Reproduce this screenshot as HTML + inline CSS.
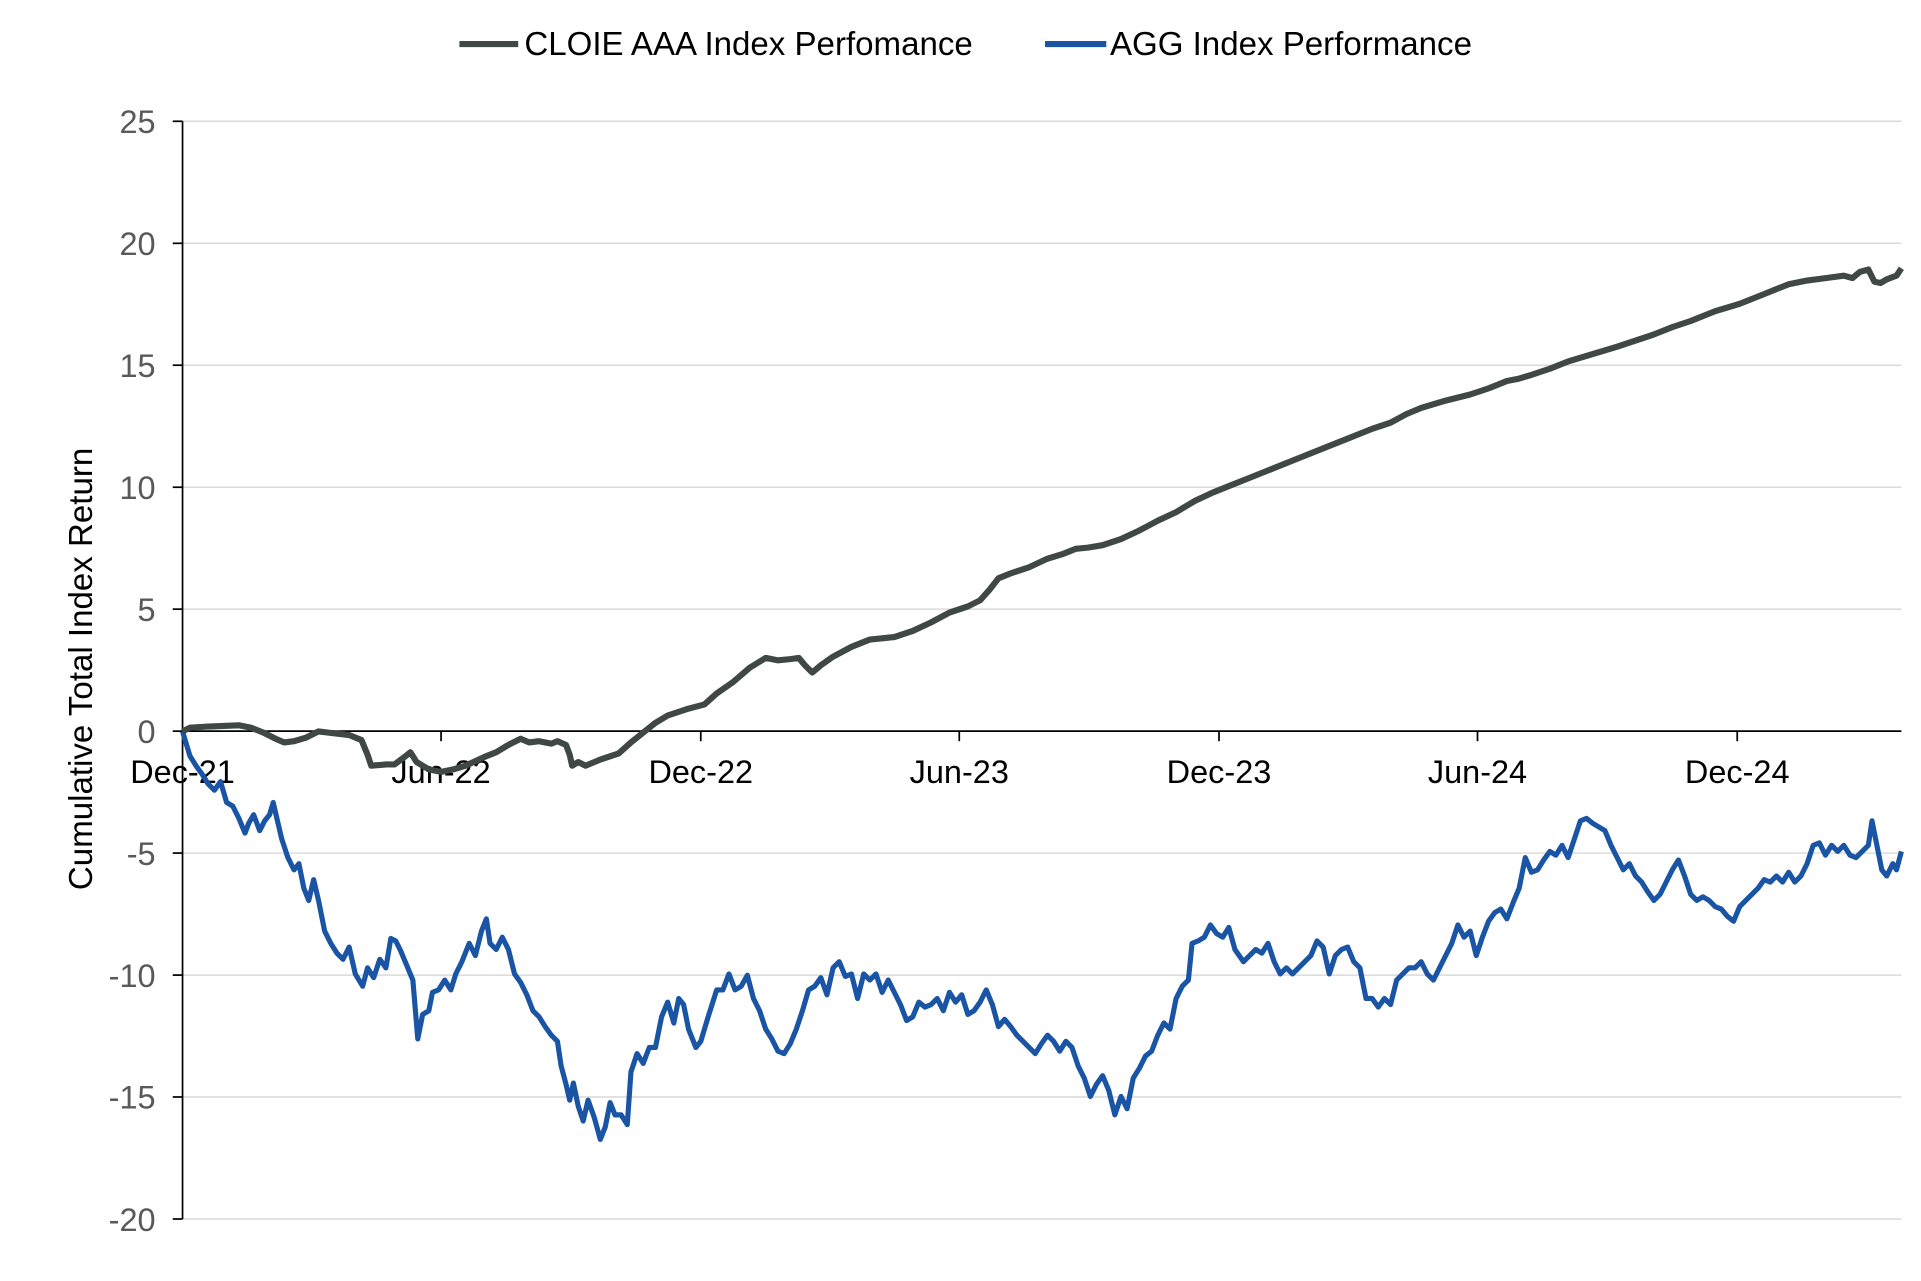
<!DOCTYPE html>
<html><head><meta charset="utf-8"><style>
html,body{margin:0;padding:0;background:#fff;}
svg{display:block;}
text{font-family:"Liberation Sans",Arial,sans-serif;}
</style></head><body>
<svg width="1921" height="1281" viewBox="0 0 1568 1045.6" preserveAspectRatio="none" xmlns="http://www.w3.org/2000/svg">
<g stroke="#d9d9d9" stroke-width="1.2">
<line x1="149" y1="99" x2="1552" y2="99"/>
<line x1="149" y1="198.6" x2="1552" y2="198.6"/>
<line x1="149" y1="298.1" x2="1552" y2="298.1"/>
<line x1="149" y1="397.7" x2="1552" y2="397.7"/>
<line x1="149" y1="497.2" x2="1552" y2="497.2"/>
<line x1="149" y1="696.3" x2="1552" y2="696.3"/>
<line x1="149" y1="795.9" x2="1552" y2="795.9"/>
<line x1="149" y1="895.4" x2="1552" y2="895.4"/>
<line x1="149" y1="995" x2="1552" y2="995"/>
</g>
<g stroke="#000" stroke-width="1.4">
<line x1="149" y1="99" x2="149" y2="995"/>
<line x1="141" y1="99" x2="149" y2="99"/>
<line x1="141" y1="198.6" x2="149" y2="198.6"/>
<line x1="141" y1="298.1" x2="149" y2="298.1"/>
<line x1="141" y1="397.7" x2="149" y2="397.7"/>
<line x1="141" y1="497.2" x2="149" y2="497.2"/>
<line x1="141" y1="596.8" x2="149" y2="596.8"/>
<line x1="141" y1="696.3" x2="149" y2="696.3"/>
<line x1="141" y1="795.9" x2="149" y2="795.9"/>
<line x1="141" y1="895.4" x2="149" y2="895.4"/>
<line x1="141" y1="995" x2="149" y2="995"/>
<line x1="149" y1="596.8" x2="1552" y2="596.8"/>
<line x1="360" y1="596.8" x2="360" y2="605"/>
<line x1="572" y1="596.8" x2="572" y2="605"/>
<line x1="783" y1="596.8" x2="783" y2="605"/>
<line x1="995" y1="596.8" x2="995" y2="605"/>
<line x1="1206" y1="596.8" x2="1206" y2="605"/>
<line x1="1418" y1="596.8" x2="1418" y2="605"/>
</g>
<g fill="#595959" font-size="26.5" text-anchor="end">
<text x="127" y="108.6">25</text>
<text x="127" y="208.2">20</text>
<text x="127" y="307.7">15</text>
<text x="127" y="407.3">10</text>
<text x="127" y="506.8">5</text>
<text x="127" y="606.4">0</text>
<text x="127" y="705.9">-5</text>
<text x="127" y="805.5">-10</text>
<text x="127" y="905">-15</text>
<text x="127" y="1004.6">-20</text>
</g>
<g fill="#000" font-size="26.5" text-anchor="middle">
<text x="149" y="639">Dec-21</text>
<text x="360" y="639">Jun-22</text>
<text x="572" y="639">Dec-22</text>
<text x="783" y="639">Jun-23</text>
<text x="995" y="639">Dec-23</text>
<text x="1206" y="639">Jun-24</text>
<text x="1418" y="639">Dec-24</text>
</g>
<text x="0" y="0" font-size="27" fill="#000" text-anchor="middle" transform="translate(75,546) rotate(-90)">Cumulative Total Index Return</text>
<line x1="375" y1="36" x2="423" y2="36" stroke="#404846" stroke-width="5"/>
<text x="428" y="45" font-size="27" fill="#000">CLOIE AAA Index Perfomance</text>
<line x1="853" y1="36" x2="903" y2="36" stroke="#1a55a5" stroke-width="5"/>
<text x="906" y="45" font-size="27" fill="#000">AGG Index Performance</text>
<polyline fill="none" stroke="#1a55a5" stroke-width="4.2" stroke-linejoin="round" points="149,597 152,607 155,617 160,625 165,632 170,640 175,645 180,638 185,655 190,658 195,668 200,680 203,672 207,665 212,678 216,670 220,665 223,655 226,668 230,685 235,700 240,710 244,705 248,725 252,735 256,718 260,735 265,760 270,770 275,778 280,783 285,773 290,795 296,805 300,790 305,798 310,783 315,790 319,766 323,768 327,776 332,788 337,800 341,848 345,828 350,825 353,810 358,808 363,800 368,808 372,795 377,785 383,770 388,780 393,760 397,750 400,770 405,775 410,765 415,775 420,795 425,802 430,812 435,825 440,830 445,838 450,845 455,850 458,870 462,885 465,898 468,884 472,903 476,915 480,898 485,912 490,930 494,920 498,900 502,910 507,910 512,918 515,875 520,860 525,868 530,855 535,855 540,830 545,818 550,835 554,815 558,820 562,840 568,855 572,850 578,830 585,808 590,808 595,795 600,808 605,805 610,796 615,815 620,825 625,840 630,848 635,858 640,860 645,852 650,840 655,825 660,808 665,805 670,798 675,812 680,790 685,785 690,797 695,795 700,815 705,795 710,800 715,795 720,810 725,800 730,810 735,820 740,833 745,830 750,818 755,822 760,820 765,815 770,825 775,810 780,818 785,812 790,828 795,825 800,818 805,808 810,820 815,838 820,832 825,838 830,845 835,850 840,855 845,860 850,852 855,845 860,850 865,858 870,850 875,855 880,870 885,880 890,895 895,885 900,878 905,890 910,910 915,895 920,905 925,880 930,872 935,862 940,858 945,845 950,835 955,840 960,815 965,805 970,800 973,770 978,768 983,765 988,755 993,762 998,765 1003,757 1008,775 1015,785 1020,780 1025,775 1030,778 1035,770 1040,785 1045,795 1050,790 1055,795 1060,790 1065,785 1070,780 1075,768 1080,773 1085,795 1090,780 1095,775 1100,773 1105,785 1110,790 1115,815 1120,815 1125,822 1130,815 1135,820 1140,800 1145,795 1150,790 1155,790 1160,785 1165,795 1170,800 1175,790 1180,780 1185,770 1190,755 1195,765 1200,760 1205,780 1210,765 1215,752 1220,745 1225,742 1230,750 1235,737 1240,725 1245,700 1250,712 1255,710 1260,702 1265,695 1270,698 1275,690 1280,700 1285,685 1290,670 1295,668 1300,672 1305,675 1310,678 1315,690 1320,700 1325,710 1330,705 1335,715 1340,720 1345,728 1350,735 1355,730 1360,720 1365,710 1370,702 1375,715 1380,730 1385,735 1390,732 1395,735 1400,740 1405,742 1410,748 1415,752 1420,740 1425,735 1430,730 1435,725 1440,718 1445,720 1450,715 1455,720 1460,712 1465,720 1470,715 1475,705 1480,690 1485,688 1490,698 1495,690 1500,695 1505,690 1510,698 1515,700 1520,695 1525,690 1528,670 1532,690 1536,710 1540,715 1545,705 1548,710 1552,695"/>
<polyline fill="none" stroke="#404846" stroke-width="5" stroke-linejoin="round" points="149,597 155,594 170,593 195,592 205,594 215,598 225,603 232,606 240,605 250,602 260,597 268,598 285,600 295,604 300,616 303,625 315,624 322,624 330,618 335,614 340,622 350,628 360,630 370,628 380,625 395,618 405,614 415,608 425,603 432,606 440,605 450,607 455,605 462,608 465,616 467,625 472,622 478,625 490,620 505,615 515,606 525,598 535,590 545,584 560,579 575,575 585,566 598,557 612,545 625,537 635,539 645,538 652,537 657,543 663,549 670,543 680,536 695,528 710,522 720,521 730,520 745,515 760,508 775,500 790,495 800,490 808,481 815,472 825,468 840,463 855,456 868,452 878,448 888,447 900,445 915,440 930,433 945,425 960,418 975,409 990,402 1005,396 1020,390 1040,382 1060,374 1080,366 1100,358 1120,350 1135,345 1148,338 1160,333 1180,327 1200,322 1215,317 1230,311 1240,309 1250,306 1265,301 1280,295 1300,289 1320,283 1335,278 1350,273 1365,267 1380,262 1400,254 1420,248 1440,240 1460,232 1475,229 1490,227 1505,225 1512,227 1518,222 1525,220 1530,230 1535,231 1540,228 1548,225 1552,219"/>
</svg>
</body></html>
